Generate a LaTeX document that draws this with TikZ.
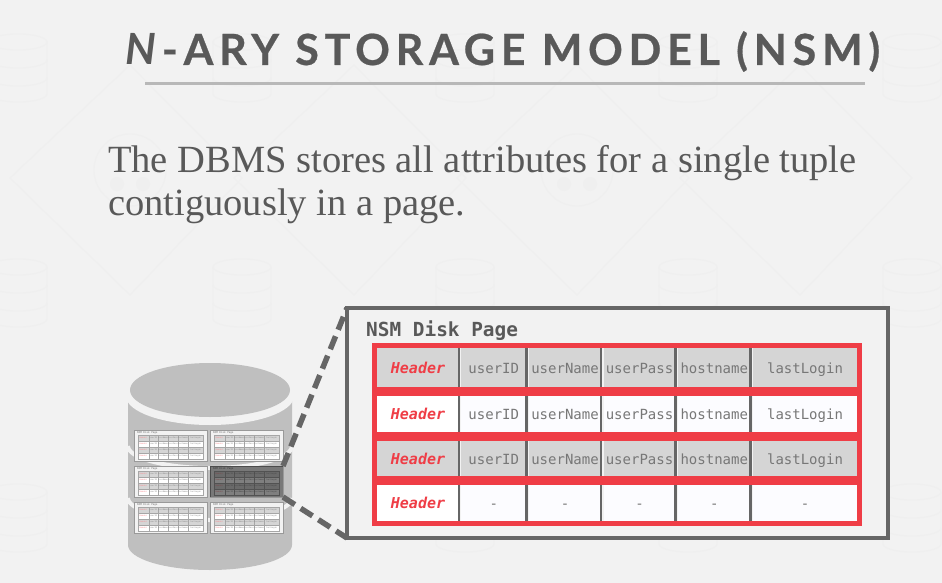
\documentclass[tikz,border=0pt]{standalone}
\usepackage{fontspec}
\newfontfamily\titlefont[LetterSpace=13.4,BoldFeatures={FakeBold=0.6}]{Lato}
\newfontfamily\bodyfont{Liberation Serif}
\setmonofont{DejaVu Sans Mono}
\definecolor{slidebg}{HTML}{F2F2F2}
\definecolor{wmgray}{HTML}{EFEFEF}
\definecolor{inkgray}{HTML}{595959}
\definecolor{rulegray}{HTML}{B8B8B8}
\definecolor{framegray}{HTML}{666666}
\definecolor{cellgray}{HTML}{D5D5D5}
\definecolor{celllight}{HTML}{FCFCFF}
\definecolor{textgray}{HTML}{777777}
\definecolor{nsmred}{HTML}{EF3D46}
\definecolor{diskgray}{HTML}{BFBFBF}

\tikzset{
  wmline/.style={draw=wmgray, line width=1.2pt},
  diskframe/.style={draw=framegray, line width=3.5pt, inner sep=0pt, outer sep=0pt},
  rowbox/.style={draw=nsmred, line width=5pt, inner sep=0pt, outer sep=0pt},
  cell/.style={inner sep=0pt, outer sep=0pt, text=textgray, text height=11pt, text depth=0pt,
    font=\ttfamily\fontsize{14}{14}\selectfont},
  headercell/.style={cell, text=nsmred, font=\ttfamily\bfseries\itshape\fontsize{15}{15}\selectfont},
  divider/.style={draw=framegray, line width=2.5pt},
  zoomline/.style={draw=framegray, line width=5.5pt, dash pattern=on 14pt off 7pt},
  % small copies of the page on the disk
  minicell/.style={draw=black!35, line width=0.4pt, inner sep=0pt, outer sep=0pt, text=black!45,
    font=\ttfamily\fontsize{2}{2}\selectfont},
  pics/minipage/.style={code={
    \node[draw=black!40, line width=0.7pt, fill=slidebg, minimum width=73pt, minimum height=31pt,
      inner sep=0pt, outer sep=0pt] (frame) at (36.5,15.5) {};
    \node[inner sep=0pt, anchor=west, text=black!55, font=\ttfamily\fontsize{2.6}{2.6}\selectfont]
      (caption) at (3,2.8) {NSM Disk Page};
    \foreach \y/\rowfill/\hfill [count=\r] in {8/cellgray/cellgray, 14/white/white, 20/cellgray/cellgray, 26/white/white} {
      \node[minicell, fill=\hfill, text=nsmred!60, minimum width=10.7pt, minimum height=6pt] (c\r-1) at (9.35,\y) {\textit{Header}};
      \foreach \x/\w/\t [count=\c from 2] in {19.35/9.3/userID, 29/10/userName, 39/10/userPass, 49/10/hostname, 61.5/15/lastLogin} {
        \node[minicell, fill=\rowfill, minimum width=\w pt, minimum height=6pt] (c\r-\c) at (\x,\y) {\t};
      }
    }
  }},
}

\begin{document}
\begin{tikzpicture}[x=1pt, y=-1pt]
\useasboundingbox (0,0) rectangle (942,583);
\fill[slidebg] (0,0) rectangle (942,583);

% Background watermark
\begin{scope}
\clip (0,0) rectangle (942,583);
\foreach \y in {34,259,484} {
  \foreach \x in {18,242,465,688,912} {
    \draw[wmline] (\x,\y+8) ellipse [x radius=29, y radius=8];
    \draw[wmline] (\x-29,\y+8) -- (\x-29,\y+60) arc [start angle=180, end angle=0, x radius=29, y radius=8] -- (\x+29,\y+8);
    \draw[wmline] (\x-29,\y+26) arc [start angle=180, end angle=0, x radius=29, y radius=8];
    \draw[wmline] (\x-29,\y+44) arc [start angle=180, end angle=0, x radius=29, y radius=8];
  }
}
\foreach \x in {130,577} {
  \draw[wmline] (\x,170) circle [radius=36];
  \fill[wmgray] (\x-13,184) circle [radius=7];
  \fill[wmgray] (\x+13,184) circle [radius=7];
}
\foreach \x in {130,354,577,800} {
  \draw[wmline] (\x-120,178) -- (\x,65) -- (\x+112,178) -- (\x,295) -- cycle;
}
\end{scope}

% Title
\node[anchor=base west, inner sep=0pt, text=inkgray, font=\titlefont\bfseries\fontsize{43}{43}\selectfont] (title) at (125,65) {\textit{N}-ARY STORAGE MODEL (NSM)};
\coordinate (ruleleft) at (145,84);
\coordinate (ruleright) at (865,84);
\draw[rulegray, line width=3pt] (ruleleft) -- (ruleright);

% Text
\node[anchor=north west, inner sep=0pt, align=left, text=inkgray, font=\bodyfont\fontsize{38.5}{43}\selectfont] (bodytext) at (108,145) {The DBMS stores all attributes for a single tuple\\contiguously in a page.};

% Disk
\fill[diskgray] (128,400) -- (128,545) arc [start angle=180, end angle=0, x radius=82, y radius=25] -- (292,400) -- cycle;
\fill[slidebg] (210,396) ellipse [x radius=84, y radius=29];
\fill[diskgray] (210,390) ellipse [x radius=80, y radius=27];
\draw[slidebg, line width=4pt] (128,446) arc [start angle=180, end angle=0, x radius=82, y radius=22];
\draw[slidebg, line width=4pt] (128,498) arc [start angle=180, end angle=0, x radius=82, y radius=22];

% Pages on the disk
\pic[name prefix=pageA-] at (134,430) {minipage};
\pic[name prefix=pageB-] at (210,430) {minipage};
\pic[name prefix=pageC-] at (134,466) {minipage};
\pic[name prefix=pageD-] at (210,466) {minipage};
\pic[name prefix=pageE-] at (134,502) {minipage};
\pic[name prefix=pageF-] at (210,502) {minipage};
\fill[black, opacity=0.5] (pageD-frame.north west) rectangle (pageD-frame.south east);

% Disk page
\node[diskframe, fill=slidebg, minimum width=541pt, minimum height=230pt] (nsmpage) at (617.5,423) {};
\draw[zoomline] (pageD-frame.north east) -- (nsmpage.north west);
\draw[zoomline] (pageD-frame.south east) -- (nsmpage.south west);
\node[anchor=base west, inner sep=0pt, text=inkgray, font=\ttfamily\bfseries\fontsize{19.4}{19.4}\selectfont] (pagetitle) at (366,336) {NSM Disk Page};

\foreach \y/\h/\rowfill/\headfill/\a/\b/\cc/\d/\e [count=\r] in {
  367.5/39/cellgray/cellgray/userID/userName/userPass/hostname/lastLogin,
  414/36/celllight/white/userID/userName/userPass/hostname/lastLogin,
  458.5/35/cellgray/cellgray/userID/userName/userPass/hostname/lastLogin,
  503/36/celllight/white/-/-/-/-/-} {
  \node[rowbox, minimum width=485pt, minimum height=\h pt+5pt] (row\r) at (617,\y) {};
  \node[headercell, fill=\headfill, minimum width=82pt, minimum height=\h pt] (head\r) at (418,\y) {Header};
  \foreach \x/\w/\t [count=\c] in {493.75/65.5/\a, 565/72/\b, 639.5/72/\cc, 714.25/72.5/\d, 805/104/\e} {
    \node[cell, fill=\rowfill, minimum width=\w pt, minimum height=\h pt] (cell\r-\c) at (\x,\y) {\t};
  }
  \draw[divider] (head\r.north east) -- (head\r.south east);
  \foreach \c in {1,2,3,4} {
    \draw[divider] (cell\r-\c.north east) -- (cell\r-\c.south east);
  }
}

\end{tikzpicture}
\end{document}
